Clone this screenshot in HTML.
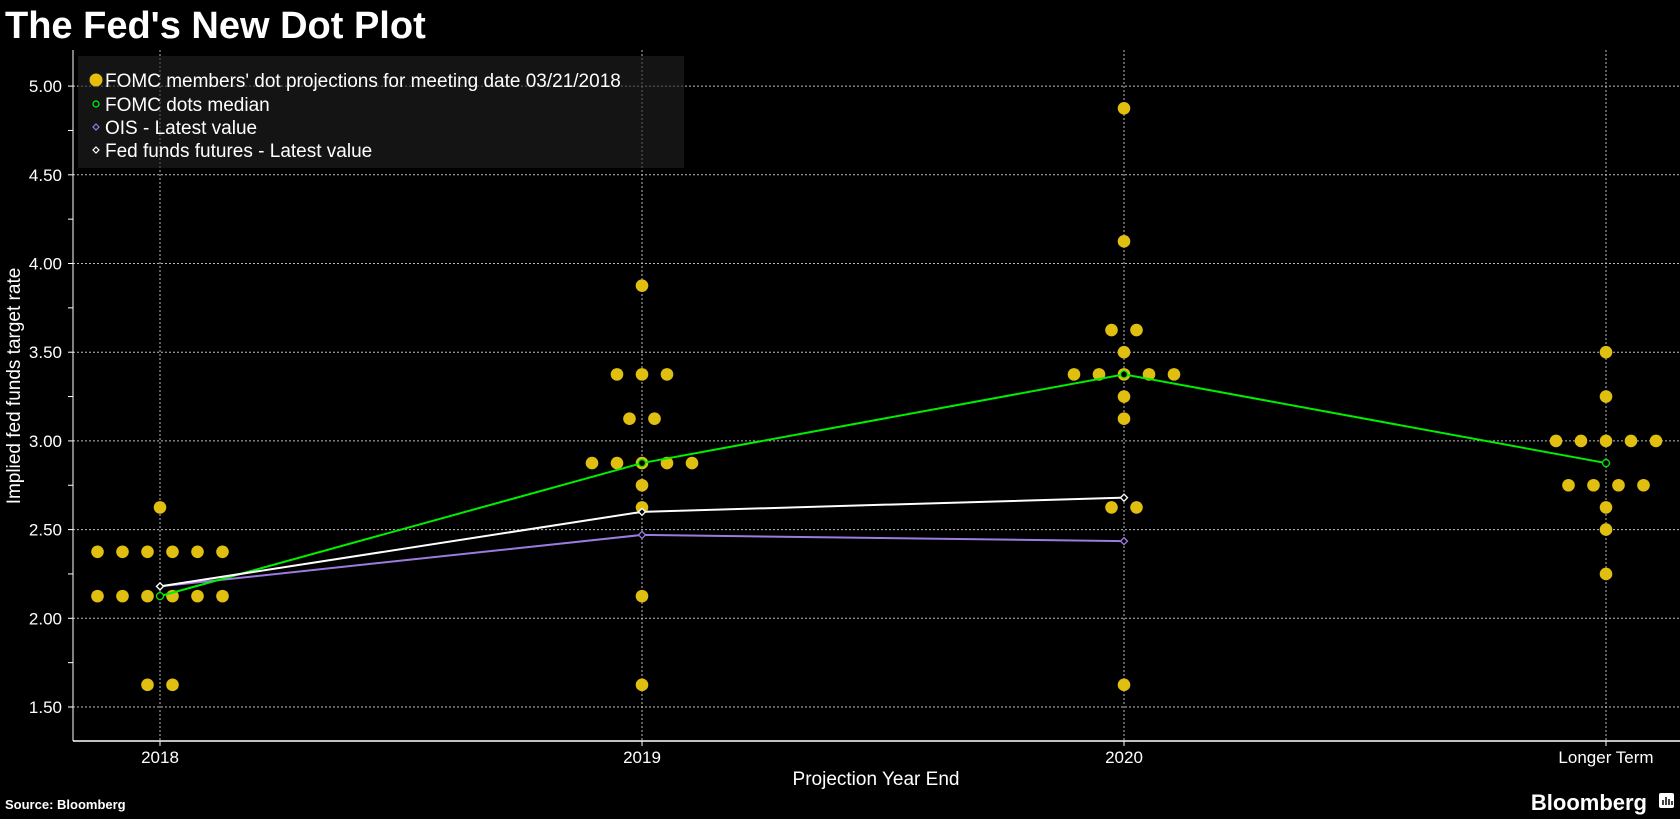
<!DOCTYPE html>
<html><head><meta charset="utf-8"><style>
html,body{margin:0;padding:0;background:#000;}
svg{display:block;font-family:"Liberation Sans",sans-serif;}
</style></head><body>
<svg width="1680" height="819" viewBox="0 0 1680 819" xmlns="http://www.w3.org/2000/svg">
<rect width="1680" height="819" fill="#000"/>
<text x="5" y="38" fill="#fff" font-size="38" font-weight="bold">The Fed's New Dot Plot</text>
<g id="grid" stroke="#bbb" stroke-width="1" stroke-dasharray="2,2"></g>
<rect x="78" y="56" width="606" height="112" fill="#222" fill-opacity="0.6"/>
<g id="ticks" fill="#fff" font-size="17"></g>
<line x1="73" y1="50" x2="73" y2="741" stroke="#fff" stroke-width="1"/>
<line x1="73" y1="741" x2="1680" y2="741" stroke="#fff" stroke-width="1.5"/>
<g font-size="17" fill="#fff" text-anchor="middle">
<text x="160" y="763">2018</text><text x="642" y="763">2019</text><text x="1124" y="763">2020</text><text x="1606" y="763">Longer Term</text>
</g>
<text x="876" y="785" fill="#fff" font-size="19" text-anchor="middle">Projection Year End</text>
<text transform="translate(20,386) rotate(-90)" fill="#fff" font-size="19" text-anchor="middle">Implied fed funds target rate</text>
<g id="dots" fill="#e0bf10"></g>
<g id="lines"></g>
<g font-size="19" fill="#fff">
<circle cx="96" cy="80" r="6.5" fill="#e0bf10"/><text x="105" y="87">FOMC members' dot projections for meeting date 03/21/2018</text>
<circle cx="96" cy="104" r="3" fill="none" stroke="#0f0" stroke-width="1.2"/><text x="105" y="111">FOMC dots median</text>
<path d="M96,124 l3,3 l-3,3 l-3,-3z" fill="none" stroke="#9b7be0" stroke-width="1.2"/><text x="105" y="134">OIS - Latest value</text>
<path d="M96,147 l3,3 l-3,3 l-3,-3z" fill="none" stroke="#fff" stroke-width="1.2"/><text x="105" y="157">Fed funds futures - Latest value</text>
</g>
<text x="5" y="809" fill="#fff" font-size="13" font-weight="bold">Source: Bloomberg</text>
<text x="1647" y="810" fill="#fff" font-size="22" font-weight="bold" text-anchor="end">Bloomberg</text>
<rect x="1659" y="793" width="15" height="15" rx="2" fill="#fff"/>
<g stroke="#000" stroke-width="1.5"><line x1="1663" y1="805" x2="1663" y2="800"/><line x1="1666" y1="805" x2="1666" y2="797"/><line x1="1669" y1="805" x2="1669" y2="799"/><line x1="1672" y1="805" x2="1672" y2="801"/></g>
<script>
var ns="http://www.w3.org/2000/svg";
function Y(v){return 707-(v-1.5)*177.4;}
function el(p,t,a){var e=document.createElementNS(ns,t);for(var k in a)e.setAttribute(k,a[k]);document.getElementById(p).appendChild(e);return e;}
var X=[160,642,1124,1606];
for(var v=1.5;v<=5.001;v+=0.5){el("grid","line",{x1:73,x2:1680,y1:Y(v),y2:Y(v)});var t=el("ticks","text",{x:62,y:Y(v)+6,"text-anchor":"end"});t.textContent=v.toFixed(2);}
for(var v=1.5;v<=5.2;v+=0.25){el("ticks","line",{x1:68,x2:73,y1:Y(v),y2:Y(v),stroke:"#fff"});}
X.forEach(function(x){el("grid","line",{x1:x,x2:x,y1:50,y2:741});el("ticks","line",{x1:x,x2:x,y1:741,y2:746,stroke:"#fff"});});
var D=[[[2.375,[-2.5,-1.5,-.5,.5,1.5,2.5]],[2.125,[-2.5,-1.5,-.5,.5,1.5,2.5]],[2.625,[0]],[1.625,[-.5,.5]]],
[[3.875,[0]],[3.375,[-1,0,1]],[3.125,[-.5,.5]],[2.875,[-2,-1,0,1,2]],[2.75,[0]],[2.625,[0]],[2.125,[0]],[1.625,[0]]],
[[4.875,[0]],[4.125,[0]],[3.625,[-.5,.5]],[3.5,[0]],[3.375,[-2,-1,0,1,2]],[3.25,[0]],[3.125,[0]],[2.625,[-.5,.5]],[1.625,[0]]],
[[3.5,[0]],[3.25,[0]],[3.0,[-2,-1,0,1,2]],[2.75,[-1.5,-.5,.5,1.5]],[2.625,[0]],[2.5,[0]],[2.25,[0]]]];
D.forEach(function(g,i){g.forEach(function(r){r[1].forEach(function(o){el("dots","circle",{cx:X[i]+o*25,cy:Y(r[0]),r:6.3});});});});
function line(vals,col,marker){var pts=vals.map(function(v,i){return X[i]+","+Y(v);}).join(" ");
el("lines","polyline",{points:pts,fill:"none",stroke:col,"stroke-width":2});
vals.forEach(function(v,i){if(marker=="c")el("lines","circle",{cx:X[i],cy:Y(v),r:3.5,fill:"#000",stroke:col,"stroke-width":1.3});
else el("lines","path",{d:"M"+X[i]+","+(Y(v)-3.5)+" l3.5,3.5 l-3.5,3.5 l-3.5,-3.5z",fill:"#000",stroke:col,"stroke-width":1.3});});}
line([2.18,2.47,2.435],"#9b7be0","d");
line([2.125,2.875,3.375,2.875],"#00ee00","c");
line([2.18,2.60,2.68],"#ffffff","d");
</script>
</svg>
</body></html>
